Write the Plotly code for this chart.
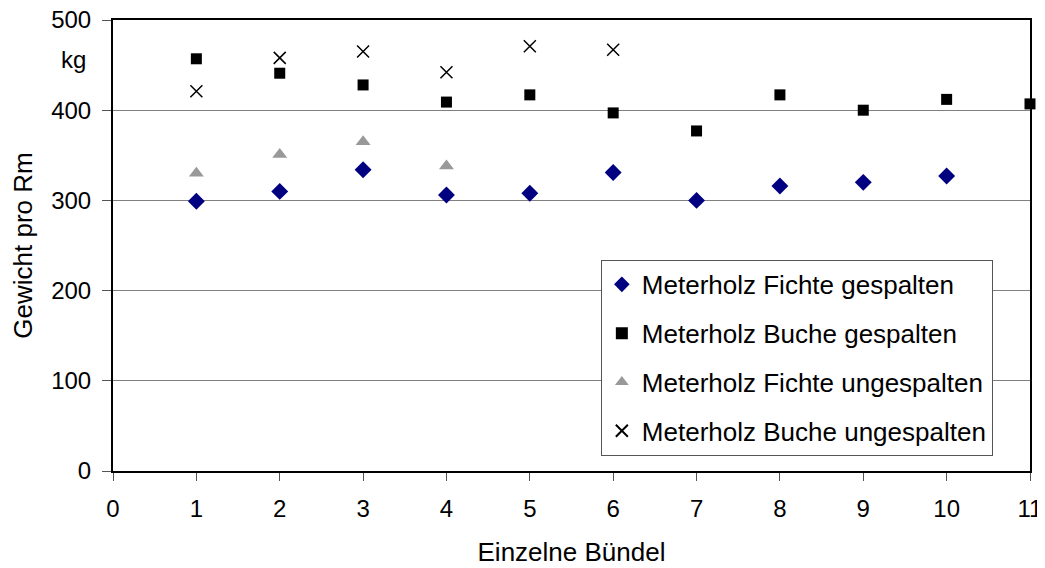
import plotly.graph_objects as go

fichte_gesp_x = [1, 2, 3, 4, 5, 6, 7, 8, 9, 10]
fichte_gesp_y = [299, 310, 334, 306, 308, 331, 300, 316, 320, 327]
buche_gesp_x = [1, 2, 3, 4, 5, 6, 7, 8, 9, 10, 11]
buche_gesp_y = [457, 441, 428, 409, 417, 397, 377, 417, 400, 412, 407]
fichte_unges_x = [1, 2, 3, 4]
fichte_unges_y = [330, 351, 365, 338]
buche_unges_x = [1, 2, 3, 4, 5, 6]
buche_unges_y = [421, 458, 465, 442, 471, 467]

names = ["Meterholz Fichte gespalten", "Meterholz Buche gespalten",
         "Meterholz Fichte ungespalten", "Meterholz Buche ungespalten"]

fig = go.Figure()
fig.add_trace(go.Scatter(x=fichte_gesp_x, y=fichte_gesp_y, mode="markers", name=names[0],
                         legendgroup="a",
                         marker=dict(symbol="diamond", size=13, color="#000080"), cliponaxis=False))
fig.add_trace(go.Scatter(x=buche_gesp_x, y=buche_gesp_y, mode="markers", name=names[1],
                         legendgroup="b",
                         marker=dict(symbol="square", size=11, color="#000000"), cliponaxis=False))
fig.add_trace(go.Scatter(x=fichte_unges_x, y=fichte_unges_y, mode="markers", name=names[2],
                         legendgroup="c",
                         marker=dict(symbol="triangle-up", size=13, color="#999999"), cliponaxis=False))
fig.add_trace(go.Scatter(x=buche_unges_x, y=buche_unges_y, mode="markers", name=names[3],
                         legendgroup="d",
                         marker=dict(symbol="x-thin", size=12, color="#000000",
                                     line=dict(width=1.5, color="#000000")), cliponaxis=False))

font = "Liberation Sans, Arial, sans-serif"
fig.update_layout(
    width=1037, height=560,
    margin=dict(l=105, r=15, t=12, b=97),
    paper_bgcolor="white", plot_bgcolor="white",
    font=dict(family=font, size=24, color="black"),
    showlegend=True,
    legend=dict(x=0.532, y=0.468, xanchor="left", yanchor="top",
                bgcolor="white", bordercolor="#555555", borderwidth=1,
                font=dict(size=26), tracegroupgap=12, itemsizing="constant"),
    xaxis=dict(range=[0, 11], tickvals=list(range(0, 12)), ticks="outside", ticklen=8,
               tickcolor="#555555", tickfont=dict(size=24), ticklabelstandoff=7,
               ticklabeloverflow="allow",
               showline=True, linecolor="black", linewidth=2, mirror=True,
               showgrid=False, zeroline=False, automargin=False,
               title=dict(text="Einzelne Bündel", font=dict(size=26), standoff=22)),
    yaxis=dict(range=[0, 500], tickvals=[0, 100, 200, 300, 400, 500], ticks="outside", ticklen=9,
               tickcolor="#555555", tickfont=dict(size=24), ticklabelstandoff=6,
               ticklabeloverflow="allow",
               showline=True, linecolor="black", linewidth=2, mirror=True,
               showgrid=True, gridcolor="#808080", gridwidth=1, zeroline=False, automargin=False,
               title=dict(text="Gewicht pro Rm", font=dict(size=26), standoff=14)),
)
fig.add_annotation(text="kg", xref="paper", yref="paper", x=-0.027, y=0.913,
                   xanchor="right", yanchor="middle", showarrow=False, font=dict(size=24))
fig.write_html("out.html")
